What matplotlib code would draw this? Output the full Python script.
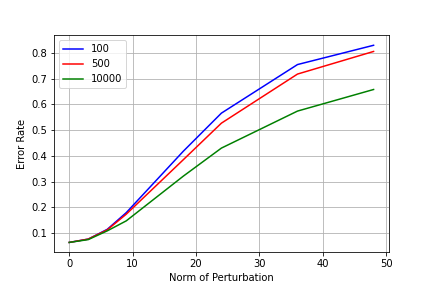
import matplotlib
matplotlib.use('Agg')
import matplotlib.pyplot as plt

# Norm of perturbation values
norms = [0, 3, 6, 9, 18, 24, 36, 48]

# Error rate per setting
err_100 = [0.063, 0.076, 0.114, 0.179, 0.418, 0.566, 0.755, 0.83]
err_500 = [0.063, 0.076, 0.112, 0.173, 0.385, 0.527, 0.718, 0.806]
err_10000 = [0.063, 0.074, 0.108, 0.147, 0.321, 0.430, 0.574, 0.658]

labels = ['100', '500', '10000']

fig = plt.figure(figsize=(6, 4), dpi=72)
plt.plot(norms, err_100, color='blue', label=labels[0])
plt.plot(norms, err_500, color='red', label=labels[1])
plt.plot(norms, err_10000, color='green', label=labels[2])
plt.xlabel('Norm of Perturbation')
plt.ylabel('Error Rate')
plt.grid(True)
plt.legend(loc='upper left')
plt.subplots_adjust(bottom=0.124, top=0.877)
plt.savefig('out.png')
